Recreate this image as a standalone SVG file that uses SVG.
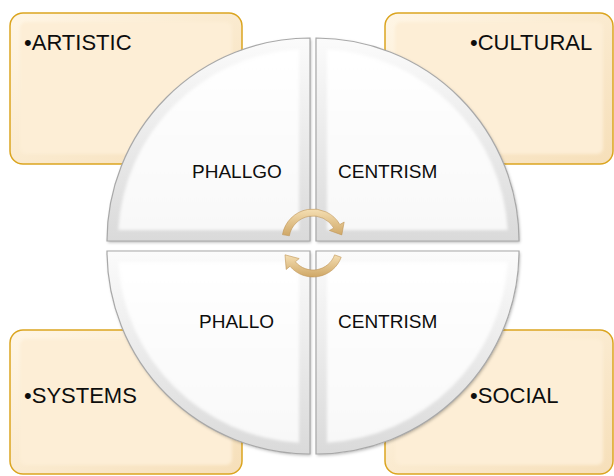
<svg xmlns="http://www.w3.org/2000/svg" width="614" height="476" viewBox="0 0 614 476">
  <style>
    .box-edge { fill: url(#boxBevel); stroke: #dba520; stroke-width: 1.5; }
    .box-face { fill: #fdeed6; filter: url(#soft); }
    .q-edge { fill: url(#qBevel); }
    .q-face { fill: url(#qFace); filter: url(#soft); }
    .q-line { fill: none; stroke: #a8a8a8; stroke-width: 1.2; }
    .label { font-family: "Liberation Sans", Arial, sans-serif; font-size: 22px; fill: #0d0d0d; }
    .inner { font-family: "Liberation Sans", Arial, sans-serif; font-size: 19px; fill: #0d0d0d; }
    .arrow { fill: url(#tan); stroke: #bf9658; stroke-width: 0.6; }
  </style>
  <defs>
    <linearGradient id="boxBevel" x1="0" y1="0" x2="1" y2="1">
      <stop offset="0" stop-color="#fff6e6"/>
      <stop offset="1" stop-color="#f6dfb9"/>
    </linearGradient>
    <linearGradient id="qBevel" x1="0" y1="0" x2="0" y2="1">
      <stop offset="0" stop-color="#fbfbfb"/>
      <stop offset="1" stop-color="#dadada"/>
    </linearGradient>
    <linearGradient id="qFace" x1="0" y1="0" x2="0" y2="1">
      <stop offset="0" stop-color="#ffffff"/>
      <stop offset="1" stop-color="#f8f8f8"/>
    </linearGradient>
    <linearGradient id="tan" x1="0" y1="0" x2="0" y2="1">
      <stop offset="0" stop-color="#f5dfb3"/>
      <stop offset="1" stop-color="#cfa766"/>
    </linearGradient>
    <filter id="soft" x="-5%" y="-5%" width="110%" height="110%">
      <feGaussianBlur stdDeviation="1.8"/>
    </filter>
    <filter id="shadow" x="-10%" y="-10%" width="120%" height="120%">
      <feDropShadow dx="1" dy="1.5" stdDeviation="1.5" flood-color="#000" flood-opacity="0.28"/>
    </filter>
  </defs>

  <!-- outer label boxes -->
  <g id="box-artistic">
    <rect class="box-edge" x="10" y="13" width="232" height="151" rx="13"/>
    <rect class="box-face" x="20" y="22" width="212" height="132" rx="6"/>
    <text class="label" x="24" y="50">•ARTISTIC</text>
  </g>
  <g id="box-cultural">
    <rect class="box-edge" x="385" y="13" width="228" height="151" rx="13"/>
    <rect class="box-face" x="395" y="22" width="208" height="132" rx="6"/>
    <text class="label" x="470" y="50">•CULTURAL</text>
  </g>
  <g id="box-systems">
    <rect class="box-edge" x="10" y="330" width="232" height="144" rx="13"/>
    <rect class="box-face" x="20" y="339" width="212" height="126" rx="6"/>
    <text class="label" x="24" y="403">•SYSTEMS</text>
  </g>
  <g id="box-social">
    <rect class="box-edge" x="385" y="330" width="228" height="144" rx="13"/>
    <rect class="box-face" x="395" y="339" width="208" height="126" rx="6"/>
    <text class="label" x="470" y="403">•SOCIAL</text>
  </g>

  <!-- circle quadrants -->
  <g id="quad-phallgo">
    <path class="q-edge" filter="url(#shadow)" d="M310,241 H107 A203,203 0 0 1 310,38 Z"/>
    <path class="q-face" d="M299,230 H118.3 A192,192 0 0 1 299,49.3 Z"/>
    <path class="q-line" d="M310,241 H107 A203,203 0 0 1 310,38 Z"/>
    <text class="inner" x="192" y="178">PHALLGO</text>
  </g>
  <g id="quad-centrism-top">
    <path class="q-edge" filter="url(#shadow)" d="M316,241 V38 A203,203 0 0 1 519,241 Z"/>
    <path class="q-face" d="M327,230 V49.3 A192,192 0 0 1 507.7,230 Z"/>
    <path class="q-line" d="M316,241 V38 A203,203 0 0 1 519,241 Z"/>
    <text class="inner" x="338" y="178">CENTRISM</text>
  </g>
  <g id="quad-phallo">
    <path class="q-edge" filter="url(#shadow)" d="M310,251 V454 A203,203 0 0 1 107,251 Z"/>
    <path class="q-face" d="M299,262 V442.7 A192,192 0 0 1 118.3,262 Z"/>
    <path class="q-line" d="M310,251 V454 A203,203 0 0 1 107,251 Z"/>
    <text class="inner" x="199" y="328">PHALLO</text>
  </g>
  <g id="quad-centrism-bottom">
    <path class="q-edge" filter="url(#shadow)" d="M316,251 H519 A203,203 0 0 1 316,454 Z"/>
    <path class="q-face" d="M327,262 H507.7 A192,192 0 0 1 327,442.7 Z"/>
    <path class="q-line" d="M316,251 H519 A203,203 0 0 1 316,454 Z"/>
    <text class="inner" x="338" y="328">CENTRISM</text>
  </g>

  <!-- circular arrows at the hub -->
  <g id="connectors">
    <path class="arrow" d="M282.47,234.62 A31,31 0 0 1 339.85,224.5 L344.18,222 L341.8,234.9 L329.45,230.5 L333.78,228 A24,24 0 0 0 289.36,235.83 Z"/>
    <path class="arrow" d="M341.19,257.26 A30,30 0 0 1 290.02,266.28 L286.19,269.5 L285,254.8 L299.21,258.57 L295.38,261.78 A23,23 0 0 0 334.61,254.87 Z"/>
  </g>
</svg>
